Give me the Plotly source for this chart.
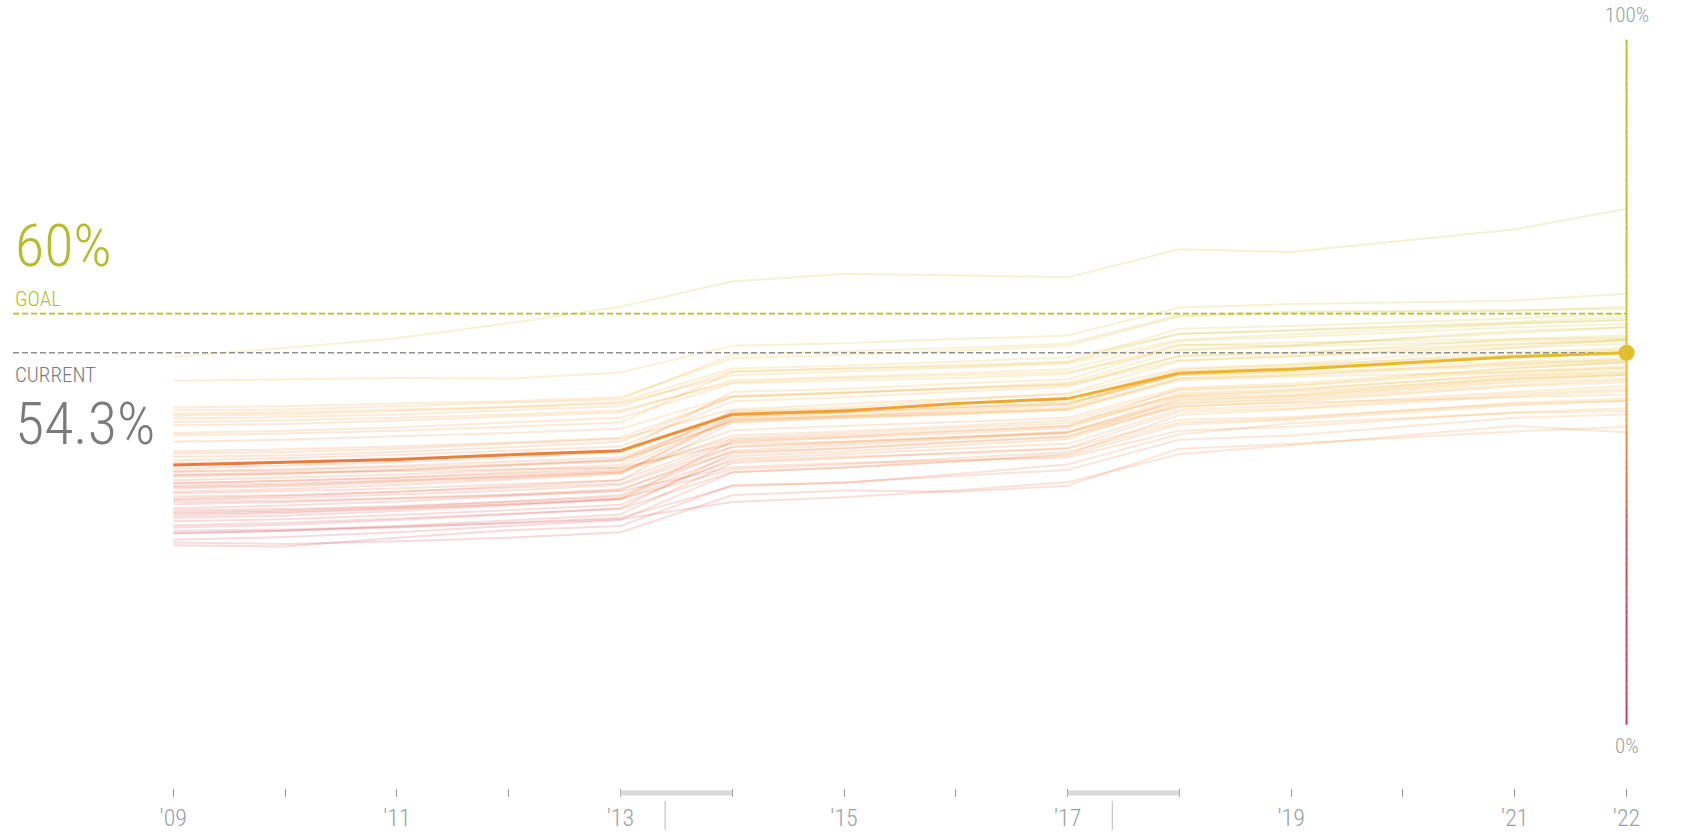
import plotly.graph_objects as go

# ---------------- data ----------------
years = [2009, 2010, 2011, 2012, 2013, 2014, 2015, 2016, 2017, 2018, 2019, 2021, 2022]
national = [37.9, 38.3, 38.7, 39.4, 40.0, 45.3, 45.8, 46.9, 47.6, 51.3, 51.9, 53.7, 54.3]
goal_value = 60
current_value = 54.3
tick_years = [2009, 2010, 2011, 2012, 2013, 2014, 2015, 2016, 2017, 2018, 2019, 2020, 2021, 2022]
tick_text = ["'09", "", "'11", "", "'13", "", "'15", "", "'17", "", "'19", "", "'21", "'22"]
break_starts = [2013, 2017]
break_ends = [2014, 2018]
break_marks = [2013.4, 2017.4]

dc = [53.7, 55.0, 56.4, 58.6, 61.0, 64.7, 65.8, 65.6, 65.3, 69.4, 69.0, 72.3, 75.3]
massachusetts = [50.2, 50.4, 50.6, 50.5, 51.4, 55.3, 55.7, 56.3, 56.8, 60.9, 61.4, 61.9, 62.9]
colorado = [46.3, 46.5, 46.9, 47.2, 47.8, 53.5, 54.0, 54.6, 55.3, 59.6, 60.1, 60.4, 61.0]
minnesota = [45.9, 46.0, 46.5, 47.0, 47.5, 54.0, 54.5, 55.0, 55.6, 59.8, 60.3, 60.5, 60.7]
connecticut = [45.4, 45.6, 46.0, 46.4, 47.1, 52.0, 52.4, 53.0, 53.6, 57.0, 57.6, 58.8, 59.5]
new_jersey = [45.1, 45.3, 45.8, 46.3, 46.9, 51.0, 51.6, 52.1, 52.7, 56.2, 57.0, 58.5, 59.2]
new_hampshire = [44.7, 44.9, 45.3, 45.9, 46.5, 51.6, 52.0, 52.5, 53.0, 57.8, 58.2, 59.3, 60.0]
maryland = [44.2, 44.4, 44.8, 45.3, 45.9, 50.0, 50.6, 51.0, 51.5, 54.8, 55.4, 57.2, 58.0]
virginia = [43.7, 43.9, 44.4, 45.0, 45.6, 50.3, 50.8, 51.3, 51.9, 56.0, 56.6, 58.0, 58.5]
vermont = [42.6, 42.9, 43.4, 44.1, 44.8, 49.8, 50.3, 50.6, 51.2, 55.5, 55.3, 57.5, 58.0]
washington = [42.3, 42.5, 42.9, 43.5, 44.1, 51.5, 52.0, 52.3, 52.9, 57.1, 57.5, 58.6, 59.0]
new_york = [41.3, 41.6, 42.1, 42.6, 43.2, 48.0, 48.5, 49.0, 49.6, 53.2, 53.8, 55.5, 56.2]
illinois = [39.9, 40.2, 40.6, 41.2, 41.9, 47.8, 48.4, 49.1, 49.7, 53.8, 54.2, 56.3, 56.8]
rhode_island = [39.6, 39.8, 40.3, 41.0, 41.7, 46.0, 46.8, 47.6, 48.2, 52.0, 52.6, 55.0, 55.6]
nebraska = [39.1, 39.3, 39.8, 40.5, 41.3, 47.9, 48.5, 49.2, 49.9, 54.6, 55.2, 56.0, 56.3]
kansas = [38.6, 38.9, 39.4, 40.0, 40.6, 47.2, 47.8, 48.6, 49.3, 53.9, 54.3, 55.6, 56.0]
wyoming = [38.2, 38.4, 38.9, 39.3, 39.9, 45.6, 46.0, 46.4, 46.9, 51.1, 51.4, 52.6, 53.3]
north_dakota = [37.4, 37.8, 38.3, 39.0, 39.8, 48.6, 49.0, 49.8, 50.4, 55.4, 55.8, 56.3, 56.5]
florida = [37.0, 37.3, 37.8, 38.4, 39.0, 44.8, 45.5, 46.3, 47.1, 51.0, 51.6, 54.0, 54.8]
hawaii = [36.9, 37.1, 37.6, 38.0, 38.7, 44.2, 44.8, 45.3, 45.9, 50.3, 50.8, 51.5, 52.1]
alaska = [36.5, 36.8, 37.0, 37.3, 37.5, 41.0, 41.3, 42.0, 42.6, 46.5, 47.0, 47.8, 48.2]
north_carolina = [36.4, 36.7, 37.2, 37.8, 38.5, 44.4, 45.1, 45.9, 46.7, 51.6, 52.2, 54.4, 55.0]
oregon = [36.2, 36.6, 37.2, 37.9, 38.6, 45.4, 46.0, 46.8, 47.5, 51.8, 52.5, 53.9, 54.6]
utah = [35.7, 36.1, 36.5, 37.2, 37.9, 45.8, 46.3, 47.4, 48.4, 53.1, 53.8, 55.1, 56.2]
georgia = [35.3, 35.6, 36.0, 36.6, 37.2, 41.8, 42.5, 43.3, 44.0, 48.1, 48.8, 51.2, 52.0]
wisconsin = [35.2, 35.6, 36.1, 36.8, 37.5, 44.6, 45.1, 45.7, 46.3, 51.4, 52.0, 53.8, 54.4]
arizona = [34.9, 35.2, 35.7, 36.2, 36.8, 42.2, 42.8, 43.6, 44.4, 48.8, 49.4, 51.6, 52.3]
pennsylvania = [34.7, 35.0, 35.6, 36.3, 37.0, 43.0, 43.6, 44.2, 44.8, 49.2, 49.8, 52.1, 52.8]
montana = [34.5, 34.8, 35.4, 36.0, 36.8, 44.5, 45.0, 45.5, 46.0, 50.5, 51.0, 52.4, 53.0]
iowa = [34.0, 34.4, 35.0, 35.8, 36.6, 45.0, 45.6, 46.2, 46.8, 51.2, 51.9, 53.0, 53.5]
south_carolina = [33.8, 34.1, 34.5, 35.1, 35.7, 41.6, 42.2, 42.9, 43.6, 48.0, 48.6, 50.5, 51.1]
idaho = [33.3, 33.5, 34.0, 34.6, 35.2, 41.2, 41.9, 42.5, 43.3, 48.4, 49.0, 51.0, 51.6]
south_dakota = [33.0, 33.4, 34.0, 34.8, 35.7, 44.1, 44.8, 45.4, 46.1, 50.6, 51.1, 52.8, 53.2]
delaware = [32.8, 33.1, 33.6, 34.2, 35.0, 40.6, 41.3, 42.0, 42.8, 47.3, 47.9, 50.2, 51.0]
texas = [32.5, 32.7, 33.1, 33.6, 34.4, 39.8, 40.4, 41.3, 42.1, 46.4, 47.1, 49.4, 50.0]
new_mexico = [32.2, 32.5, 33.0, 33.5, 34.1, 37.6, 38.2, 38.6, 39.0, 42.9, 43.5, 45.6, 46.2]
california = [31.6, 32.0, 32.6, 33.4, 34.2, 40.5, 41.1, 41.9, 42.7, 47.0, 47.6, 50.0, 50.5]
michigan = [31.3, 31.5, 31.9, 32.6, 33.5, 40.0, 40.8, 41.7, 42.6, 47.8, 48.2, 50.8, 51.4]
tennessee = [31.0, 31.3, 31.8, 32.5, 33.2, 39.2, 39.9, 40.8, 41.7, 46.8, 47.4, 49.6, 50.3]
oklahoma = [30.8, 31.1, 31.6, 32.2, 32.9, 38.5, 39.1, 39.6, 40.3, 44.5, 44.9, 46.8, 47.3]
alabama = [30.5, 30.9, 31.5, 32.2, 33.0, 37.3, 38.0, 38.9, 39.8, 44.1, 44.7, 47.0, 47.6]
maine = [30.2, 30.5, 31.2, 32.0, 32.9, 41.4, 42.0, 42.8, 43.6, 49.0, 49.5, 52.0, 53.0]
kentucky = [29.7, 30.0, 30.6, 31.3, 32.1, 38.8, 39.5, 40.3, 41.0, 46.0, 46.6, 48.6, 49.4]
mississippi = [29.1, 29.5, 30.1, 30.8, 31.5, 36.9, 37.5, 38.4, 39.3, 43.8, 44.5, 46.6, 47.3]
missouri = [28.8, 29.2, 29.9, 30.7, 31.6, 39.6, 40.3, 41.2, 42.0, 47.5, 48.0, 50.5, 51.2]
nevada = [28.3, 28.5, 28.9, 29.4, 30.0, 32.5, 33.2, 34.2, 35.4, 39.5, 40.8, 43.6, 42.7]
louisiana = [28.0, 28.3, 28.8, 29.5, 30.2, 34.8, 35.4, 36.3, 37.2, 41.6, 42.2, 44.8, 45.3]
ohio = [27.9, 28.3, 29.0, 29.8, 30.7, 38.2, 38.9, 39.7, 40.4, 45.7, 46.2, 48.3, 49.0]
indiana = [27.0, 27.4, 28.1, 29.0, 29.9, 36.8, 37.6, 38.5, 39.5, 45.2, 46.0, 48.0, 48.7]
west_virginia = [26.6, 26.4, 26.8, 27.3, 28.1, 33.5, 34.2, 34.0, 34.9, 40.3, 41.0, 42.8, 43.5]
arkansas = [26.2, 26.0, 27.3, 28.4, 29.0, 35.0, 35.3, 36.6, 38.0, 42.4, 44.0, 45.5, 45.8]

state_series = [dc, massachusetts, colorado, minnesota, connecticut, new_jersey, new_hampshire,
                maryland, virginia, vermont, washington, new_york, illinois, rhode_island,
                nebraska, kansas, wyoming, north_dakota, florida, hawaii, alaska, north_carolina,
                oregon, utah, georgia, wisconsin, arizona, pennsylvania, montana, iowa,
                south_carolina, idaho, south_dakota, delaware, texas, new_mexico, california,
                michigan, tennessee, oklahoma, alabama, maine, kentucky, mississippi, missouri,
                nevada, louisiana, ohio, indiana, west_virginia, arkansas]

# ---------------- styling ----------------
FONT = "Roboto Condensed, Liberation Sans Narrow, Arial Narrow, Roboto, sans-serif"
color_stops = [
    (0, (210, 54, 90)), (28, (214, 70, 90)), (36, (233, 112, 62)), (40, (238, 128, 56)),
    (46, (244, 160, 52)), (51, (240, 180, 45)), (55, (228, 190, 44)), (60, (205, 194, 42)),
    (75, (185, 194, 38)), (100, (178, 194, 36)),
]


def color_at(v):
    for (v0, c0), (v1, c1) in zip(color_stops[:-1], color_stops[1:]):
        if v <= v1:
            t = max(0.0, (v - v0) / (v1 - v0))
            return tuple(round(c0[k] + t * (c1[k] - c0[k])) for k in range(3))
    return color_stops[-1][1]


def rgba(c, a=1.0):
    return f"rgba({c[0]},{c[1]},{c[2]},{a})"


X0, X1 = 2007.45, 2022.505
Y0, Y1 = -9.23, 105.78
W, H, MB = 1683, 832, 42
PLOT_H = H - MB


def xp(year):
    return (year - X0) / (X1 - X0)


def yp_px(px):
    return (PLOT_H - px) / PLOT_H


fig = go.Figure()

# state lines, each segment coloured by its level
for vals in state_series:
    for i in range(len(years) - 1):
        c = color_at((vals[i] + vals[i + 1]) / 2)
        fig.add_trace(go.Scatter(
            x=[years[i], years[i + 1]], y=[vals[i], vals[i + 1]], mode="lines",
            line=dict(color=rgba(c, 0.2), width=2), hoverinfo="skip", showlegend=False))

# dashed reference lines
x_start = X0 + 13 / W * (X1 - X0)
fig.add_trace(go.Scatter(x=[x_start, years[-1]], y=[goal_value, goal_value], mode="lines",
                         line=dict(color="#b5bf2c", width=1.6, dash="6px,3px"),
                         hoverinfo="skip", showlegend=False))
fig.add_trace(go.Scatter(x=[x_start, years[-1]], y=[current_value, current_value], mode="lines",
                         line=dict(color="#8f8f8f", width=1.6, dash="6px,3px"),
                         hoverinfo="skip", showlegend=False))

# national line
for i in range(len(years) - 1):
    c = color_at((national[i] + national[i + 1]) / 2)
    fig.add_trace(go.Scatter(
        x=[years[i], years[i + 1]], y=[national[i], national[i + 1]], mode="lines",
        line=dict(color=rgba(c), width=3), hoverinfo="skip", showlegend=False))

# current dot
fig.add_trace(go.Scatter(x=[years[-1]], y=[national[-1]], mode="markers",
                         marker=dict(size=16, color="#e2bd2e"), cliponaxis=False,
                         hoverinfo="skip", showlegend=False))

shapes = []
# vertical gradient scale at 2022
for v in range(0, 100):
    shapes.append(dict(type="line", xref="x", yref="y", x0=2022, x1=2022, y0=v, y1=v + 1,
                       line=dict(color=rgba(color_at(v + 0.5)), width=2), layer="below"))
# methodology break bars
for s, e, m in zip(break_starts, break_ends, break_marks):
    shapes.append(dict(type="rect", xref="paper", yref="paper", x0=xp(s), x1=xp(e),
                       y0=yp_px(797.5), y1=yp_px(792.5), fillcolor="#d9d9d9",
                       line=dict(width=0)))
    shapes.append(dict(type="line", xref="paper", yref="paper", x0=xp(m), x1=xp(m),
                       y0=yp_px(803), y1=yp_px(832), line=dict(color="#c4c4c4", width=1.2)))

annotations = [
    dict(text="60%", x=13 / W, xref="paper", y=70.0, yref="y", xanchor="left", yanchor="middle",
         showarrow=False, font=dict(family=FONT, size=60, color="#b3bd2c", weight=300)),
    dict(text="GOAL", x=13 / W, xref="paper", y=62.2, yref="y", xanchor="left", yanchor="middle",
         showarrow=False, font=dict(family=FONT, size=21, color="#b3bd2c", weight=300)),
    dict(text="CURRENT", x=13 / W, xref="paper", y=51.1, yref="y", xanchor="left", yanchor="middle",
         showarrow=False, font=dict(family=FONT, size=21, color="#7a7a7a", weight=300)),
    dict(text="54.3%", x=13 / W, xref="paper", y=44.0, yref="y", xanchor="left", yanchor="middle",
         showarrow=False, font=dict(family=FONT, size=60, color="#7a7a7a", weight=300)),
    dict(text="100%", x=2022, xref="x", y=103.6, yref="y", xanchor="center", yanchor="middle",
         showarrow=False, font=dict(family=FONT, size=21, color="#9aa0a6", weight=300)),
    dict(text="0%", x=2022, xref="x", y=-3.1, yref="y", xanchor="center", yanchor="middle",
         showarrow=False, font=dict(family=FONT, size=21, color="#9aa0a6", weight=300)),
]

fig.update_layout(
    width=W, height=H,
    margin=dict(l=0, r=0, t=0, b=MB, pad=0),
    paper_bgcolor="white", plot_bgcolor="white",
    shapes=shapes, annotations=annotations,
    xaxis=dict(range=[X0, X1], showgrid=False, zeroline=False, showline=False,
               tickmode="array", tickvals=tick_years, ticktext=tick_text,
               ticks="outside", ticklen=8, tickwidth=1, tickcolor="#9a9a9a",
               tickfont=dict(family=FONT, size=24, color="#9aa0a6", weight=300),
               fixedrange=True),
    yaxis=dict(range=[Y0, Y1], visible=False, fixedrange=True),
)

fig.write_html("out.html", config={"displayModeBar": False},
               post_script="document.body.style.margin='0';document.body.style.overflow='hidden';")
